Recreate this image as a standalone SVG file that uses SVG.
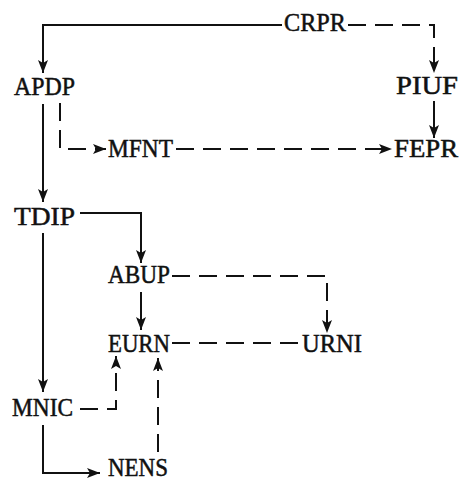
<svg xmlns="http://www.w3.org/2000/svg" width="460" height="481" viewBox="0 0 460 481">
<style>
text{font-family:"Liberation Serif",serif;font-size:25px;fill:#111;stroke:#111;stroke-width:0.5}
.c{fill:none;stroke:#111;stroke-width:2}
.d{stroke-dasharray:18 9}
</style>
<defs>
<marker id="ah" markerUnits="userSpaceOnUse" markerWidth="14" markerHeight="10" refX="13" refY="5" orient="auto">
<path d="M0,0 L13,5 L0,10 L3,5 Z" fill="#111"/>
</marker>
</defs>
<rect width="460" height="481" fill="#fff"/>
<g id="connectors">
<path class="c" d="M282 25 H43 V73" marker-end="url(#ah)"/>
<path class="c d" d="M348 25 H434 V73" marker-end="url(#ah)"/>
<path class="c" d="M434 101 V138" marker-end="url(#ah)"/>
<path class="c d" d="M60 103 V149 H106" marker-end="url(#ah)"/>
<path class="c d" d="M176 149 H392" marker-end="url(#ah)"/>
<path class="c" d="M43 104 V202" marker-end="url(#ah)"/>
<path class="c" d="M80 213 H141 V263" marker-end="url(#ah)"/>
<path class="c d" d="M172 276 H327 V333" marker-end="url(#ah)"/>
<path class="c" d="M141 292 V330" marker-end="url(#ah)"/>
<path class="c d" d="M172 343 H298"/>
<path class="c" d="M43 233 V392" marker-end="url(#ah)"/>
<path class="c d" d="M80 409 H116 V356" marker-end="url(#ah)"/>
<path class="c" d="M43 425 V473 H100" marker-end="url(#ah)"/>
<path class="c d" d="M158 452 V358" marker-end="url(#ah)"/>
</g>
<g id="CRPR"><text x="284" y="31" textLength="62" lengthAdjust="spacingAndGlyphs">CRPR</text></g>
<g id="APDP"><text x="14" y="95" textLength="61" lengthAdjust="spacingAndGlyphs">APDP</text></g>
<g id="PIUF"><text x="396" y="94" textLength="62" lengthAdjust="spacingAndGlyphs">PIUF</text></g>
<g id="MFNT"><text x="108" y="157" textLength="65" lengthAdjust="spacingAndGlyphs">MFNT</text></g>
<g id="FEPR"><text x="394" y="157" textLength="64" lengthAdjust="spacingAndGlyphs">FEPR</text></g>
<g id="TDIP"><text x="14" y="225" textLength="61" lengthAdjust="spacingAndGlyphs">TDIP</text></g>
<g id="ABUP"><text x="108" y="283" textLength="62" lengthAdjust="spacingAndGlyphs">ABUP</text></g>
<g id="EURN"><text x="108" y="352" textLength="62" lengthAdjust="spacingAndGlyphs">EURN</text></g>
<g id="URNI"><text x="302" y="352" textLength="60" lengthAdjust="spacingAndGlyphs">URNI</text></g>
<g id="MNIC"><text x="12" y="416" textLength="61" lengthAdjust="spacingAndGlyphs">MNIC</text></g>
<g id="NENS"><text x="108" y="476" textLength="60" lengthAdjust="spacingAndGlyphs">NENS</text></g>
</svg>
